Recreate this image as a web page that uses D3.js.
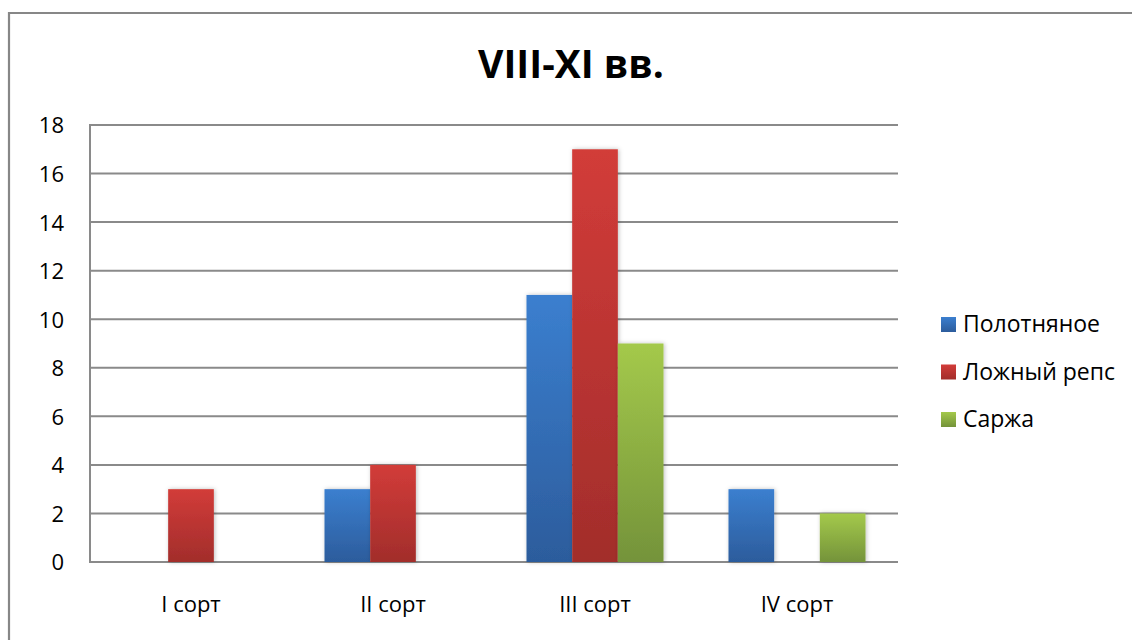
<!DOCTYPE html>
<html><head><meta charset="utf-8">
<script src="https://cdn.jsdelivr.net/npm/d3@7"></script>
<style>body{margin:0;background:#fff;} svg{display:block;font-family:"Open Sans",sans-serif;}</style>
</head><body>
<svg id="c" width="1132" height="640"></svg>
<script>
const title = "VIII-XI вв.";
const categories = ["I сорт", "II сорт", "III сорт", "IV сорт"];
const seriesNames = ["Полотняное", "Ложный репс", "Саржа"];
const polotnyanoe = [0, 3, 11, 3];
const lozhnyReps = [3, 4, 17, 0];
const sarzha = [0, 0, 9, 2];
const yTicks = [0, 2, 4, 6, 8, 10, 12, 14, 16, 18];

const seriesValues = [polotnyanoe, lozhnyReps, sarzha];
const colorsTop = ["#3b7fcf", "#d23c39", "#a4c94b"];
const colorsBot = ["#2c5c9c", "#a22d2b", "#74933a"];

const svg = d3.select("#c");
const defs = svg.append("defs");
colorsTop.forEach((c, i) => {
  const g = defs.append("linearGradient").attr("id", "g" + i).attr("x1", 0).attr("y1", 0).attr("x2", 0).attr("y2", 1);
  g.append("stop").attr("offset", "0%").attr("stop-color", c);
  g.append("stop").attr("offset", "100%").attr("stop-color", colorsBot[i]);
});
const f = defs.append("filter").attr("id", "sh").attr("x", "-20%").attr("y", "-10%").attr("width", "140%").attr("height", "120%");
f.append("feDropShadow").attr("dx", 1).attr("dy", 0).attr("stdDeviation", 2).attr("flood-color", "#000").attr("flood-opacity", 0.25);

// outer frame
svg.append("path").attr("d", "M9,645 L9,13 L1140,13").attr("fill", "none").attr("stroke", "#878787").attr("stroke-width", 2.2);

const L = 90, R = 898, T = 125, B = 562;
const y = d3.scaleLinear().domain([0, 18]).range([B, T]);
const x0 = d3.scaleBand().domain(categories).range([L, R]).padding(0);
const x1 = d3.scaleBand().domain(seriesNames).range([32.5, x0.bandwidth() - 32.5]).padding(0);

// gridlines
svg.append("g").selectAll("line").data(yTicks).join("line")
  .attr("x1", L).attr("x2", R).attr("y1", d => y(d)).attr("y2", d => y(d))
  .attr("stroke", "#8a8a8a").attr("stroke-width", 2);
svg.append("line").attr("x1", L).attr("x2", L).attr("y1", T - 1).attr("y2", B + 1).attr("stroke", "#8a8a8a").attr("stroke-width", 2);

// y labels
const yAxis = d3.axisLeft(y).tickValues(yTicks).tickSize(0).tickPadding(26);
const ya = svg.append("g").attr("transform", `translate(${L},0)`).call(yAxis);
ya.select(".domain").remove();
ya.selectAll("text").attr("font-size", 22).attr("font-family", "Open Sans").attr("fill", "#000").attr("dy", "0.36em");

// x labels
const xAxis = d3.axisBottom(x0).tickSize(0).tickPadding(34);
const xa = svg.append("g").attr("transform", `translate(0,${B})`).call(xAxis);
xa.select(".domain").remove();
xa.selectAll("text").attr("font-size", 22).attr("font-family", "Open Sans").attr("fill", "#000");

// bars
seriesNames.forEach((s, si) => {
  svg.append("g").selectAll("rect").data(categories.map((c, ci) => ({c, v: seriesValues[si][ci]})).filter(d => d.v > 0))
    .join("rect")
    .attr("x", d => x0(d.c) + x1(s))
    .attr("width", x1.bandwidth())
    .attr("y", d => y(d.v))
    .attr("height", d => B - y(d.v))
    .attr("fill", `url(#g${si})`)
    .attr("filter", "url(#sh)");
});

// title
svg.append("text").attr("x", 571).attr("y", 78).attr("text-anchor", "middle")
  .attr("font-size", 39).attr("font-weight", "bold").attr("font-family", "Open Sans").text(title);

// legend
const lg = svg.append("g").selectAll("g").data(seriesNames).join("g")
  .attr("transform", (d, i) => `translate(941,${317 + i * 47.5})`);
lg.append("rect").attr("width", 15).attr("height", 15).attr("fill", (d, i) => `url(#g${i})`);
lg.append("text").attr("x", 22).attr("y", 15).attr("font-size", 23).attr("font-family", "Open Sans").text(d => d);
</script>
</body></html>
